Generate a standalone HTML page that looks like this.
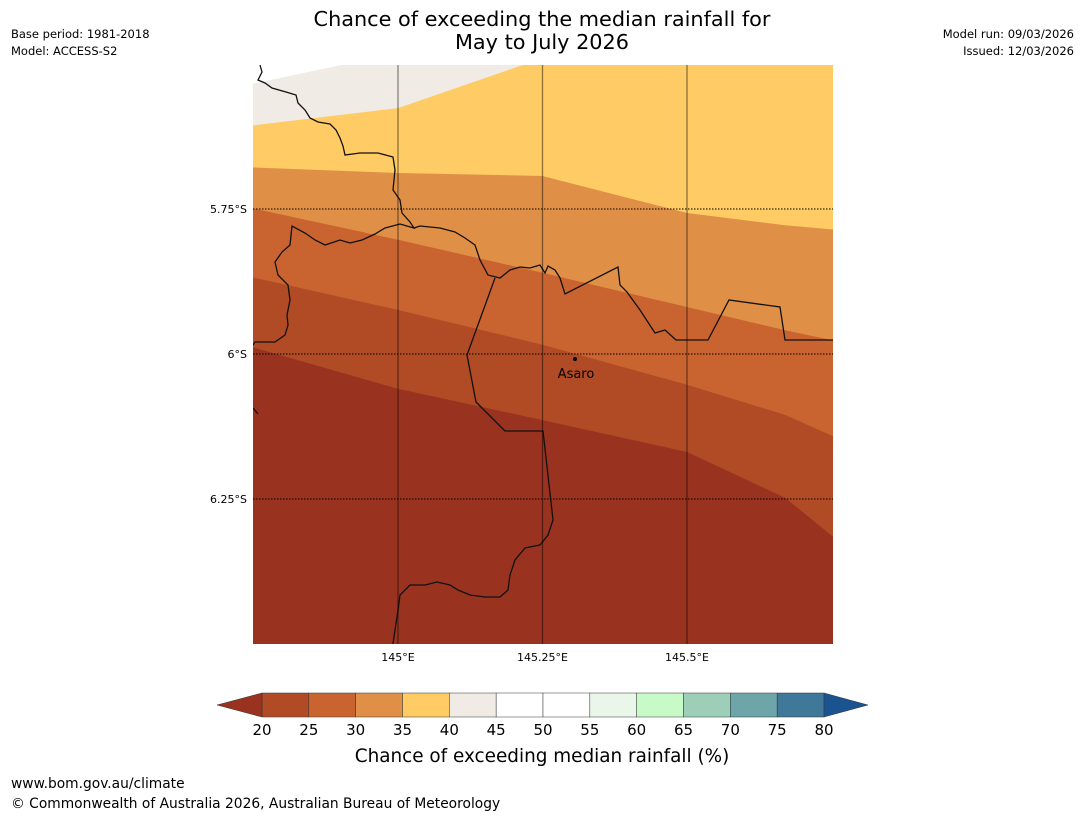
<!DOCTYPE html>
<html><head><meta charset="utf-8"><style>
body{margin:0;background:#fff;width:1085px;height:816px;overflow:hidden;font-family:"Liberation Sans","DejaVu Sans",sans-serif}
</style></head><body>
<svg id="chart" width="1085" height="816" xmlns="http://www.w3.org/2000/svg" font-family="DejaVu Sans, Liberation Sans, sans-serif">
<text x="542" y="26" text-anchor="middle" font-size="20.8">Chance of exceeding the median rainfall for</text>
<text x="542" y="49" text-anchor="middle" font-size="20.8">May to July 2026</text>
<text x="11" y="38" font-size="11.5">Base period: 1981-2018</text>
<text x="11" y="55" font-size="11.5">Model: ACCESS-S2</text>
<text x="1074" y="38" font-size="11.5" text-anchor="end">Model run: 09/03/2026</text>
<text x="1074" y="55" font-size="11.5" text-anchor="end">Issued: 12/03/2026</text>
<defs><clipPath id="mc"><rect x="253" y="65" width="580" height="579"/></clipPath></defs>
<g id="map" clip-path="url(#mc)"></g>
<g id="axes"></g>
<g id="cbar"></g>
<text x="542" y="762" text-anchor="middle" font-size="18.4">Chance of exceeding median rainfall (%)</text>
<text x="11" y="788" font-size="13.8">www.bom.gov.au/climate</text>
<text x="11" y="808" font-size="13.8">© Commonwealth of Australia 2026, Australian Bureau of Meteorology</text>
</svg>
<script>
// data
const lonGrid=[144.74,145,145.25,145.5,145.67,145.76];
const boundLevels=[45,40,35,30,25,20];
const boundLats=[
 [-5.536,-5.481,-5.426,-5.37,-5.33,-5.31],
 [-5.607,-5.576,-5.490,-5.407,-5.347,-5.317],
 [-5.678,-5.688,-5.693,-5.757,-5.778,-5.786],
 [-5.747,-5.803,-5.860,-5.919,-5.959,-5.978],
 [-5.866,-5.924,-5.984,-6.053,-6.105,-6.145],
 [-5.986,-6.060,-6.114,-6.169,-6.248,-6.321]
];
const lonTicks=[145,145.25,145.5];
const lonTickLabels=["145°E","145.25°E","145.5°E"];
const latTicks=[-5.75,-6,-6.25];
const latTickLabels=["5.75°S","6°S","6.25°S"];
const cbTicks=[20,25,30,35,40,45,50,55,60,65,70,75,80];
const cbColors=["#b04b25","#c96430","#e09046","#fecb65","#f0ebe5","#ffffff","#ffffff","#eaf6ea","#c8fac8","#9dcfb8","#6ea5a8","#3f7898"];
const lowColor="#993320", highColor="#1a5390";
const NS="http://www.w3.org/2000/svg";
const X=lon=>398+(lon-145)*578;
const Y=lat=>209+(-5.75-lat)*580;
function col(v){ if(v<20) return lowColor; if(v>=80) return highColor; return cbColors[Math.floor((v-20)/5)]; }
function mk(tag,attrs,parent){const e=document.createElementNS(NS,tag);for(const k in attrs)e.setAttribute(k,attrs[k]);parent.appendChild(e);return e;}
const map=document.getElementById('map');
const bg=mk('rect',{x:253,y:65,width:580,height:579,fill:"#ffffff"},map);


boundLats.forEach((lats,i)=>{
 let pts=lonGrid.map((l,j)=>X(l)+','+Y(lats[j])).join(' ');
 pts+=' '+X(lonGrid[lonGrid.length-1])+',700 '+X(lonGrid[0])+',700';
 const p=mk('polygon',{points:pts,fill:col(boundLevels[i]-1)},map);
 
 
});
const border1="260,65 262,72 258,80 265,83 272,88 286,92 296,95 298,103 305,110 310,118 318,122 330,124 336,130 340,138 343,146 345,155 360,153 378,153 393,157 395,170 393,190 400,200 402,213 410,222 414,228 400,224 385,228 375,234 362,240 350,243 340,240 325,245 315,240 305,233 292,226 290,245 282,252 275,262 278,275 288,285 290,300 287,315 288,325 285,335 275,342 255,342 253,345";
const border2="414,228 420,226 440,228 455,232 465,238 475,245 480,260 488,275 500,278 510,270 520,267 530,268 540,265 545,273 548,266 555,270 560,278 565,294 618,267 620,285 627,292 640,310 655,333 665,330 676,340 708,340 729,300 780,307 785,340 840,340";
const border3="495,278 467,355 476,402 505,431 543,431 553,520 548,535 540,545 525,548 515,560 510,575 508,590 500,597 485,597 470,595 458,590 450,585 437,582 425,585 410,585 400,595 398,610 392,650";
[border1,border2,border3,"253,408 258,414"].forEach((b,i)=>{
 const p=mk('polyline',{points:b,fill:"none",stroke:"#111",'stroke-width':1.3},map);
 
 
});
const axes=document.getElementById('axes');
lonTicks.forEach((l,i)=>{
 const g=mk('line',{x1:X(l),x2:X(l),y1:65,y2:644,stroke:"#000",'stroke-opacity':0.45,'stroke-width':1.3},axes);
 
 
 const t=mk('text',{x:X(l),y:661,'text-anchor':'middle','font-size':11},axes);
 t.textContent=lonTickLabels[i];
 
 
});
latTicks.forEach((l,i)=>{
 const g=mk('line',{x1:253,x2:833,y1:Y(l),y2:Y(l),stroke:"#000",'stroke-width':1,'stroke-dasharray':'1.5,1.5'},axes);
 
 
 const t=mk('text',{x:247,y:Y(l)+4,'text-anchor':'end','font-size':11},axes);
 t.textContent=latTickLabels[i];
 
 
});
const dot=mk('circle',{cx:575,cy:359,r:2,fill:"#000"},axes);


const lab=mk('text',{x:576,y:378,'text-anchor':'middle','font-size':13},axes);
lab.textContent="Asaro";


// colorbar
const cb=document.getElementById('cbar');
const cx0=262,cx1=824,cy0=693,cy1=717;
const CX=v=>cx0+(v-20)/60*(cx1-cx0);
cbColors.forEach((c,i)=>{
 const r=mk('rect',{x:CX(cbTicks[i]),y:cy0,width:CX(cbTicks[i+1])-CX(cbTicks[i]),height:cy1-cy0,fill:c,stroke:"#333",'stroke-width':0.5},cb);
 
 
});
const lt=mk('polygon',{points:`${cx0},${cy0} ${cx0},${cy1} 217,705`,fill:lowColor,stroke:"#333",'stroke-width':0.5},cb);


const rt=mk('polygon',{points:`${cx1},${cy0} ${cx1},${cy1} 868,705`,fill:highColor,stroke:"#333",'stroke-width':0.5},cb);


cbTicks.forEach(v=>{
 const t=mk('text',{x:CX(v),y:735,'text-anchor':'middle','font-size':15},cb);
 t.textContent=v;
 
 
});
</script>
</body></html>
